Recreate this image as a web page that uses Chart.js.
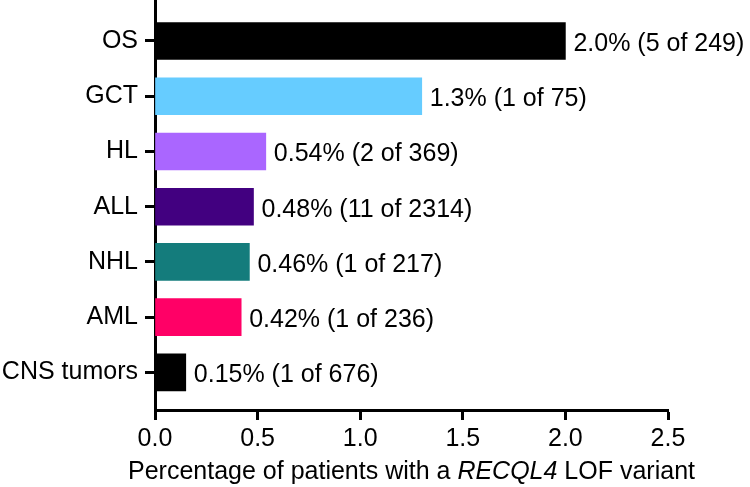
<!DOCTYPE html>
<html><head><meta charset="utf-8">
<script src="https://cdn.jsdelivr.net/npm/chart.js@4"></script>
<style>html,body{margin:0;padding:0;background:#fff}canvas{display:block}</style>
</head><body>
<canvas id="c" width="750" height="487"></canvas>
<script>
const categories = ['OS', 'GCT', 'HL', 'ALL', 'NHL', 'AML', 'CNS tumors'];
const percentages = [2.0, 1.3, 0.54, 0.48, 0.46, 0.42, 0.15];
const valueLabels = ['2.0% (5 of 249)', '1.3% (1 of 75)', '0.54% (2 of 369)', '0.48% (11 of 2314)', '0.46% (1 of 217)', '0.42% (1 of 236)', '0.15% (1 of 676)'];
const barColors = ['#000000', '#66CCFF', '#AA66FF', '#420080', '#147C7C', '#FF0066', '#000000'];
const xTickValues = [0, 0.5, 1.0, 1.5, 2.0, 2.5];
const axisTitleParts = [['Percentage of patients with a ', false], ['RECQL4', true], [' LOF variant', false]];

const FONT = "'Liberation Sans', Arial, Helvetica, sans-serif";
const FS = 25;

const valueLabelPlugin = {
  id: 'valueLabels',
  afterDatasetsDraw(chart) {
    const ctx = chart.ctx;
    const meta = chart.getDatasetMeta(0);
    ctx.save();
    ctx.font = FS + 'px ' + FONT;
    ctx.fillStyle = '#000';
    ctx.textAlign = 'left';
    ctx.textBaseline = 'middle';
    meta.data.forEach((bar, i) => {
      ctx.fillText(valueLabels[i], bar.x + 8, bar.y + 3);
    });
    ctx.restore();
  }
};

const axisTitlePlugin = {
  id: 'axisTitle',
  afterDraw(chart) {
    const ctx = chart.ctx;
    const area = chart.chartArea;
    ctx.save();
    ctx.fillStyle = '#000';
    ctx.textBaseline = 'middle';
    ctx.textAlign = 'left';
    let total = 0;
    const widths = axisTitleParts.map(([t, it]) => {
      ctx.font = (it ? 'italic ' : '') + FS + 'px ' + FONT;
      const w = ctx.measureText(t).width;
      total += w;
      return w;
    });
    let x = (area.left + area.right) / 2 - total / 2;
    axisTitleParts.forEach(([t, it], i) => {
      ctx.font = (it ? 'italic ' : '') + FS + 'px ' + FONT;
      ctx.fillText(t, x, 472);
      x += widths[i];
    });
    ctx.restore();
  }
};

new Chart(document.getElementById('c'), {
  type: 'bar',
  data: {
    datasets: [{
      data: percentages.map((v, i) => ({ x: v, y: i })),
      backgroundColor: barColors,
      borderWidth: 0,
      barThickness: 37
    }]
  },
  options: {
    indexAxis: 'y',
    responsive: false,
    animation: false,
    layout: { padding: { top: 0, right: 82, left: 0, bottom: 0 } },
    plugins: { legend: { display: false }, tooltip: { enabled: false } },
    scales: {
      x: {
        type: 'linear',
        position: 'bottom',
        min: 0,
        max: 2.5,
        afterBuildTicks(s) { s.ticks = xTickValues.map(v => ({ value: v })); },
        afterFit(s) { s.height = 77; },
        ticks: {
          color: '#000',
          font: { family: FONT, size: FS },
          padding: 4,
          maxRotation: 0,
          callback: v => Number(v).toFixed(1)
        },
        grid: { offset: false, drawOnChartArea: false, drawTicks: true, tickLength: 10, tickWidth: 3, tickColor: '#000' },
        border: { display: true, width: 3, color: '#000' }
      },
      y: {
        type: 'linear',
        position: 'left',
        reverse: true,
        offset: false,
        min: -0.742,
        max: 6.68,
        z: 1,
        afterBuildTicks(s) { s.ticks = categories.map((_, i) => ({ value: i })); },
        afterFit(s) { s.width = 155; s.paddingTop = 0; s.paddingBottom = 0; },
        ticks: {
          color: '#000',
          font: { family: FONT, size: FS },
          padding: 7,
          autoSkip: false,
          callback: v => categories[v] !== undefined ? categories[v] : ''
        },
        grid: { offset: false, drawOnChartArea: false, drawTicks: true, tickLength: 10, tickWidth: 3, tickColor: '#000' },
        border: { display: true, width: 3, color: '#000' }
      }
    }
  },
  plugins: [valueLabelPlugin, axisTitlePlugin]
});
</script>
</body></html>
